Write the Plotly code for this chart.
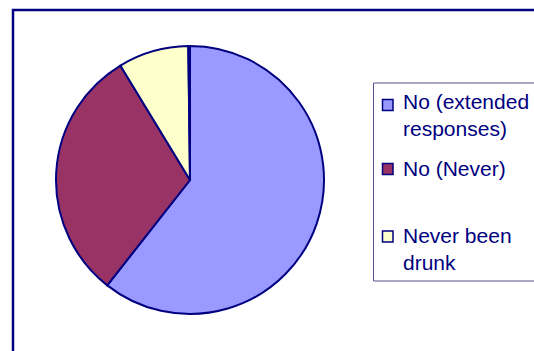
import plotly.graph_objects as go

# Survey answers and their shares (percent)
labels = ["No (extended responses)", "No (Never)", "Never been drunk", "Other"]
legend_lines = ["No (extended<br>responses)", "No (Never)", "Never been<br>drunk"]
values = [60.6, 30.7, 8.5, 0.2]
colors = ["#9999FF", "#993366", "#FFFFCC", "#CCFFFF"]

W, H = 534, 351
NAVY = "#000080"

def px(x):
    return x / W

def py(y):
    return 1 - y / H

cx, cy, r = 190, 180, 134

fig = go.Figure()
fig.add_trace(go.Pie(
    labels=labels,
    values=values,
    marker=dict(colors=colors, line=dict(color=NAVY, width=2)),
    sort=False,
    direction="clockwise",
    rotation=0,
    textinfo="none",
    hoverinfo="label+percent",
    showlegend=False,
    domain=dict(x=[px(cx - r), px(cx + r)], y=[py(cy + r), py(cy - r)]),
))

shapes = [
    # chart frame
    dict(type="rect", xref="paper", yref="paper",
         x0=px(13), x1=px(545), y0=py(10), y1=py(365),
         line=dict(color=NAVY, width=2.5), fillcolor="rgba(0,0,0,0)"),
    # legend box
    dict(type="rect", xref="paper", yref="paper",
         x0=px(373.5), x1=px(545), y0=py(83), y1=py(281),
         line=dict(color="#50508a", width=1), fillcolor="rgba(0,0,0,0)"),
]

annotations = []
# legend entries: vertical centre of each text block and of each key square
entry_centres = [114.5, 169, 248.5]
marker_centres = [105, 169, 236.5]
for lab, col, yc, ym in zip(legend_lines, colors, entry_centres, marker_centres):
    shapes.append(dict(type="rect", xref="paper", yref="paper",
                       x0=px(382.5), x1=px(393), y0=py(ym + 5.5), y1=py(ym - 5.5),
                       line=dict(color=NAVY, width=1.5), fillcolor=col))
    annotations.append(dict(xref="paper", yref="paper", x=px(401), y=py(yc),
                            xanchor="left", yanchor="middle", align="left",
                            text=lab, showarrow=False,
                            font=dict(family="Liberation Sans, Arial, sans-serif",
                                      size=21, color=NAVY)))

fig.update_layout(
    width=W, height=H,
    margin=dict(l=0, r=0, t=0, b=0),
    paper_bgcolor="white",
    plot_bgcolor="white",
    shapes=shapes,
    annotations=annotations,
)

fig.write_html("out.html")
